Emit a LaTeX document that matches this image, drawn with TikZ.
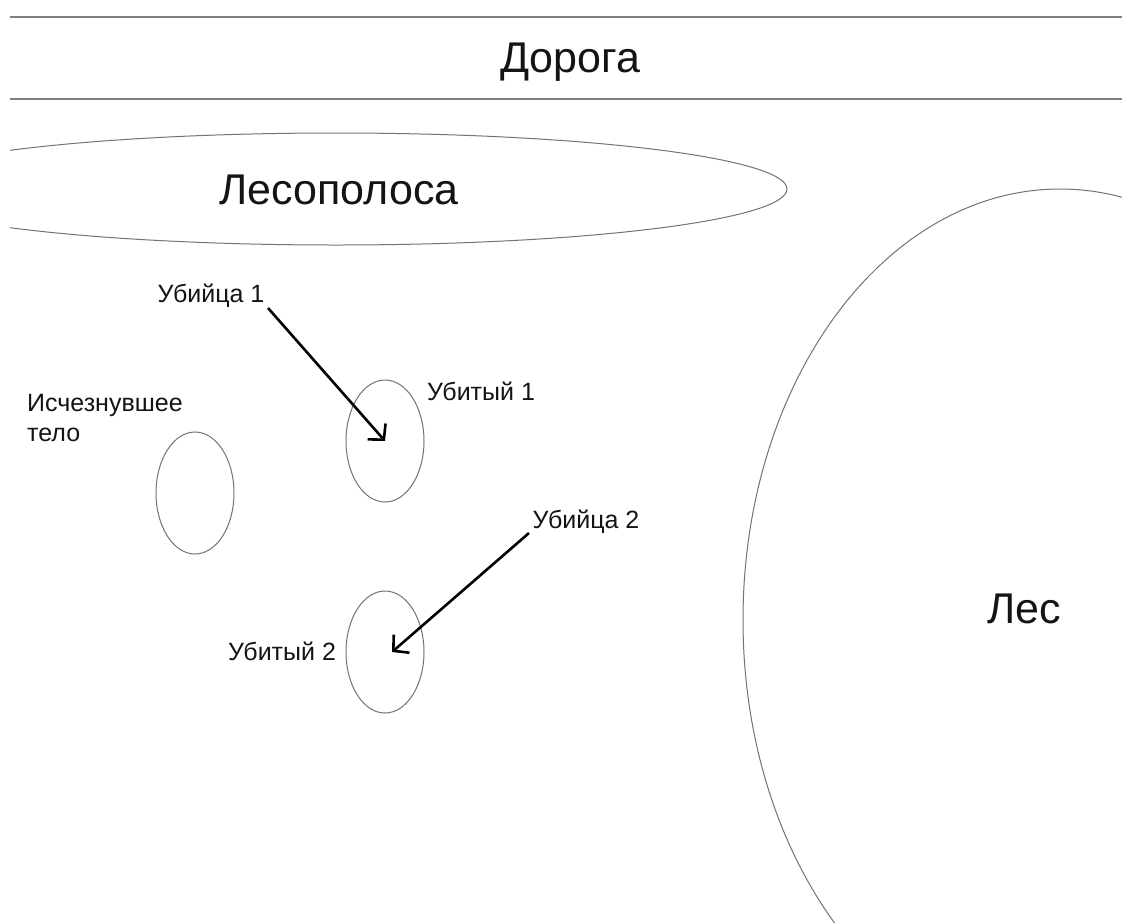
\documentclass[tikz,border=0pt]{standalone}
\usepackage{fontspec}
\setmainfont{Liberation Sans}
\usetikzlibrary{shapes.geometric,arrows.meta}
\begin{document}
\begin{tikzpicture}[x=1pt,y=-1pt,
  big/.style={font=\fontsize{43}{50}\selectfont, text=black!92, inner sep=0pt},
  small/.style={font=\fontsize{25}{30}\selectfont, text=black!92, inner sep=0pt},
  roadline/.style={draw=black!50, line width=1.3pt},
  shapeline/.style={draw=black!55, line width=1pt},
  body/.style={ellipse, shapeline, minimum width=78pt, minimum height=122pt, inner sep=0pt},
  arr/.style={line width=2.6pt, -{Straight Barb[length=11pt,width=24pt]}}
]
\useasboundingbox (0,0) rectangle (1122,922);
\fill[white] (0,0) rectangle (1122,922);
\begin{scope}
  \clip (10,0) rectangle (1122,922);
  % road
  \draw[roadline] (10,17) -- (1122,17);
  \draw[roadline] (10,99) -- (1122,99);
  % forest strip
  \draw[shapeline] (336,189) ellipse [x radius=451, y radius=56];
  % forest
  \draw[shapeline] (1060,620) ellipse [x radius=317, y radius=431];
\end{scope}
\node[big, anchor=base] (road) at (570,72) {Дорога};
\node[big, anchor=base] (strip) at (339,204) {Лесополоса};
\node[big, anchor=base] (forest) at (1024,623) {Лес};

% bodies
\node[body] (gone) at (195,493) {};
\node[body] (v1) at (385,441) {};
\node[body] (v2) at (385,652) {};

% labels
\node[small, anchor=north west, align=left] (gonelbl) at (27,394) {Исчезнувшее\\тело};
\node[small, anchor=base] (k1) at (211,302) {Убийца 1};
\node[small, anchor=base] (v1lbl) at (481,400) {Убитый 1};
\node[small, anchor=base] (k2) at (586,528) {Убийца 2};
\node[small, anchor=base] (v2lbl) at (282,660) {Убитый 2};

% arrows
\coordinate (a1s) at (268,308);
\coordinate (a2s) at (529,533);
\coordinate (a2e) at (392,652);
\draw[arr] (a1s) -- (v1.center);
\draw[arr] (a2s) -- (a2e);
\end{tikzpicture}
\end{document}
